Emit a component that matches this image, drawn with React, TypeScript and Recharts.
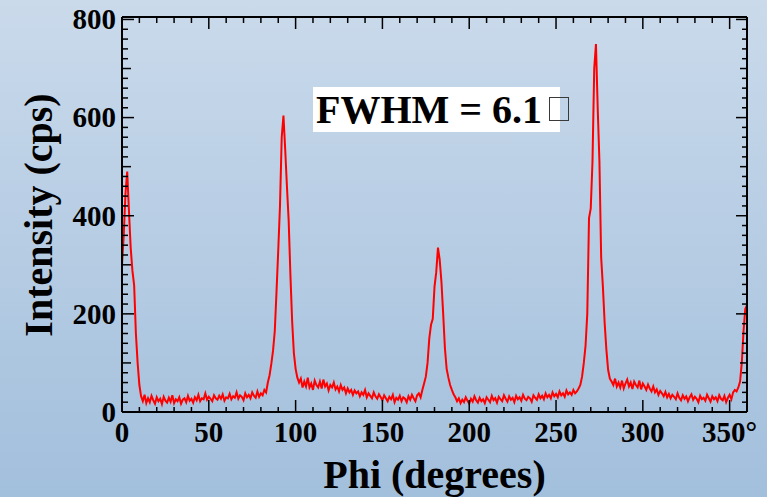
import React from "react";
import { LineChart, Line, XAxis, YAxis } from "recharts";

// phi scan, one sample per degree starting at 0
const PHI_STEP = 1;

const intensity = [
  300, 360, 445, 490, 410, 335, 288, 258, 160, 100,
  55, 32, 22, 35, 18, 28, 20, 33, 24, 17,
  30, 22, 27, 16, 31, 23, 19, 29, 21, 34,
  18, 26, 22, 30, 17, 25, 28, 20, 33, 23,
  27, 19, 30, 24, 35, 22, 28, 26, 38, 25,
  31, 27, 22, 34, 28, 25, 33, 27, 36, 23,
  30, 28, 37, 26, 32, 29, 40, 27, 34, 31,
  24, 38, 30, 35, 28, 40, 33, 29, 42, 31,
  38, 34, 45, 40, 60, 75, 98, 125, 165, 245,
  330, 420, 560, 604, 535, 460, 390, 280, 185, 120,
  88, 70, 60, 68, 50, 62, 52, 70, 50, 58,
  45, 64, 55, 50, 62, 48, 66, 52, 58, 44,
  55, 50, 60, 46, 52, 42, 55, 45, 50, 38,
  48, 40, 45, 35, 44, 38, 42, 32, 40, 35,
  45, 30, 38, 33, 28, 40, 32, 27, 36, 30,
  24, 34, 28, 22, 31, 26, 35, 20, 29, 25,
  33, 22, 30, 27, 20, 32, 25, 35, 28, 22,
  34, 38, 30, 45, 58, 72, 100, 150, 178, 190,
  255, 285, 335, 310, 265, 200, 130, 88, 70, 55,
  45, 36, 30, 22, 28, 18, 25, 20, 30, 23,
  17, 27, 21, 32, 24, 19, 29, 22, 26, 18,
  30, 25, 20, 33, 24, 28, 19, 31, 26, 22,
  34, 27, 21, 32, 25, 29, 20, 33, 26, 30,
  23, 35, 27, 24, 31, 28, 21, 34, 29, 25,
  36, 28, 33, 26, 38, 30, 35, 28, 40, 32,
  37, 30, 42, 34, 38, 31, 44, 36, 40, 35,
  45, 38, 42, 48, 55, 72, 100, 135, 200, 395,
  415, 510, 700, 750, 620, 510, 315, 255, 182, 127,
  86, 68, 62, 55, 68, 52, 60, 50, 64, 48,
  58, 66, 52, 60, 47, 62, 55, 50, 64, 46,
  58, 52, 45, 56, 48, 42, 52, 40, 46, 35,
  43, 38, 32, 41, 30, 37, 28, 35, 31, 26,
  38, 29, 24, 34, 27, 32, 22, 30, 36, 25,
  31, 27, 20, 33, 26, 29, 23, 35, 28, 21,
  32, 26, 30, 22, 34, 27, 24, 33, 20, 29,
  35, 26, 40, 45, 42, 50, 62, 100, 165, 210,
  218,
];

const xTicks = [
  0, 10, 20, 30, 40, 50, 60, 70, 80, 90, 100, 110, 120, 130, 140, 150, 160, 170, 180,
  190, 200, 210, 220, 230, 240, 250, 260, 270, 280, 290, 300, 310, 320, 330, 340, 350, 360,
];
const xLabels = [0, 50, 100, 150, 200, 250, 300, 350];

const yTicks = [
  0, 20, 40, 60, 80, 100, 120, 140, 160, 180, 200, 220, 240, 260, 280, 300, 320, 340,
  360, 380, 400, 420, 440, 460, 480, 500, 520, 540, 560, 580, 600, 620, 640, 660, 680,
  700, 720, 740, 760, 780, 800,
];
const yLabels = [0, 200, 400, 600, 800];

const data = intensity.map((v, i) => ({ phi: i * PHI_STEP, cps: v }));

const FONT = '"Liberation Serif", "Times New Roman", serif';

const BottomTick = (props: any) => {
  const { x, y, payload } = props;
  const v = payload.value;
  const major = v % 50 === 0;
  return (
    <g>
      <line x1={x} y1={y} x2={x} y2={y - (major ? 12 : 5)} stroke="#000" strokeWidth={1.5} />
      {xLabels.includes(v) && (
        <text x={x} y={y + 30} textAnchor="middle" fontFamily={FONT} fontWeight="bold" fontSize={29} fill="#000">
          {v === 350 ? "350°" : v}
        </text>
      )}
    </g>
  );
};

const TopTick = (props: any) => {
  const { x, y, payload } = props;
  const major = payload.value % 50 === 0;
  return <line x1={x} y1={y} x2={x} y2={y + (major ? 12 : 6)} stroke="#000" strokeWidth={1.5} />;
};

const LeftTick = (props: any) => {
  const { x, y, payload } = props;
  const v = payload.value;
  const len = v % 200 === 0 ? 12 : v % 100 === 0 ? 9 : 6;
  return (
    <g>
      <line x1={x} y1={y} x2={x + len} y2={y} stroke="#000" strokeWidth={1.5} />
      {yLabels.includes(v) && (
        <text x={x - 6} y={y} dy="0.34em" textAnchor="end" fontFamily={FONT} fontWeight="bold" fontSize={29} fill="#000">
          {v}
        </text>
      )}
    </g>
  );
};

const RightTick = (props: any) => {
  const { x, y, payload } = props;
  const v = payload.value;
  const len = v % 200 === 0 ? 11 : v % 100 === 0 ? 7 : 5;
  return <line x1={x} y1={y} x2={x - len} y2={y} stroke="#000" strokeWidth={1.5} />;
};

const YTitle = () => (
  <text
    x={52}
    y={215}
    transform="rotate(-90 52 215)"
    textAnchor="middle"
    fontFamily={FONT}
    fontWeight="bold"
    fontSize={40}
    fill="#000"
  >
    Intensity (cps)
  </text>
);

const XTitle = () => (
  <text x={434.5} y={488} textAnchor="middle" fontFamily={FONT} fontWeight="bold" fontSize={40} fill="#000">
    Phi (degrees)
  </text>
);

export default function App() {
  return (
    <div
      style={{
        position: "absolute",
        left: 0,
        top: 0,
        width: 767,
        height: 497,
        background: "linear-gradient(to bottom, #cadaeb, #a2bfdc)",
        overflow: "hidden",
      }}
    >
      <LineChart width={767} height={497} data={data} margin={{ top: 0, right: 0, bottom: 0, left: 0 }}>
        <XAxis
          xAxisId="bottom"
          orientation="bottom"
          type="number"
          dataKey="phi"
          domain={[0, 360]}
          ticks={xTicks}
          interval={0}
          height={85}
          tickSize={0}
          tickMargin={0}
          tick={<BottomTick />}
          axisLine={{ stroke: "#000", strokeWidth: 2 }}
          tickLine={false}
          allowDataOverflow
          label={<XTitle />}
        />
        <XAxis
          xAxisId="top"
          orientation="top"
          type="number"
          dataKey="phi"
          domain={[0, 360]}
          ticks={xTicks}
          interval={0}
          height={17}
          tickSize={0}
          tickMargin={0}
          tick={<TopTick />}
          axisLine={{ stroke: "#000", strokeWidth: 2 }}
          tickLine={false}
          allowDataOverflow
        />
        <YAxis
          yAxisId="left"
          orientation="left"
          type="number"
          domain={[0, 805]}
          ticks={yTicks}
          interval={0}
          width={122}
          tickSize={0}
          tickMargin={0}
          tick={<LeftTick />}
          axisLine={{ stroke: "#000", strokeWidth: 2 }}
          tickLine={false}
          allowDataOverflow
          label={<YTitle />}
        />
        <YAxis
          yAxisId="right"
          orientation="right"
          type="number"
          domain={[0, 805]}
          ticks={yTicks}
          interval={0}
          width={20}
          tickSize={0}
          tickMargin={0}
          tick={<RightTick />}
          axisLine={{ stroke: "#000", strokeWidth: 2 }}
          tickLine={false}
          allowDataOverflow
        />
        <Line
          xAxisId="top"
          yAxisId="right"
          dataKey="cps"
          stroke="none"
          dot={false}
          activeDot={false}
          isAnimationActive={false}
        />
        <Line
          xAxisId="bottom"
          yAxisId="left"
          type="linear"
          dataKey="cps"
          stroke="#ff0000"
          strokeWidth={2}
          dot={false}
          activeDot={false}
          isAnimationActive={false}
        />
      </LineChart>
      <div
        style={{
          position: "absolute",
          left: 313,
          top: 87,
          width: 247,
          height: 45,
          background: "#ffffff",
          fontFamily: FONT,
          fontWeight: "bold",
          fontSize: 40,
          lineHeight: "45px",
          paddingLeft: 3,
          boxSizing: "border-box",
          whiteSpace: "nowrap",
          color: "#000",
        }}
      >
        FWHM = 6.1
      </div>
      <div
        style={{
          position: "absolute",
          left: 549,
          top: 97,
          width: 20,
          height: 24,
          border: "1.5px solid #3a3a3a",
          boxSizing: "border-box",
        }}
      />
    </div>
  );
}
